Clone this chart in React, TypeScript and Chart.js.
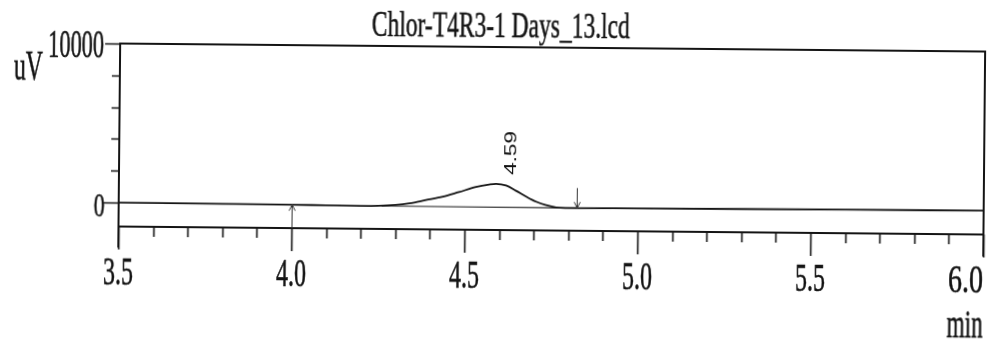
import React, { useEffect, useRef } from "react";
import { Chart, registerables } from "chart.js";

Chart.register(...registerables);

// Chromatogram trace: retention time (min) and detector response (uV)
const chartTitle = "Chlor-T4R3-1 Days_13.lcd";
const yUnitLabel = "uV";
const xUnitLabel = "min";

const timeMin = [
  3.5, 3.8, 4.0, 4.1, 4.2, 4.25, 4.3, 4.34, 4.388, 4.437, 4.483, 4.532, 4.57,
  4.59, 4.619, 4.648, 4.677, 4.706, 4.735, 4.764, 4.79, 4.825, 5.0, 5.3, 5.6,
  6.0,
];
const signalUv = [
  0, -15, -30, -45, -58, -45, 20, 130, 340, 560, 860, 1190, 1350, 1400, 1300,
  975, 620, 305, 95, -40, -72, -75, -60, -40, -20, 0,
];

// Integration baseline drawn under the peak
const integrationTime = [4.26, 4.825];
const integrationUv = [-55, -75];

// Peak annotation
const peakTime = 4.59;
const peakUv = 1400;
const peakLabel = "4.59";

// Integration event markers (up = start arrow, down = end arrow)
const markerTime = [4.0, 4.825];
const markerUv = [-30, -75];
const markerDirection = ["up", "down"];

// Axes
const xMin = 3.5;
const xMax = 6.0;
const yMin = -1500;
const yMax = 10000;
const xMajorValues = [3.5, 4.0, 4.5, 5.0, 5.5, 6.0];
const xTickLabels = ["3.5", "4.0", "4.5", "5.0", "5.5", "6.0"];
const xMinorValues = [
  3.6, 3.7, 3.8, 3.9, 4.1, 4.2, 4.3, 4.4, 4.6, 4.7, 4.8, 4.9, 5.1, 5.2, 5.3,
  5.4, 5.6, 5.7, 5.8, 5.9,
];
const yTickValues = [0, 2000, 4000, 6000, 8000, 10000];
const yLabelValues = [10000, 0];
const yTickLabels = ["10000", "0"];

const INK = "#141414";
const SERIF = "'Liberation Serif', 'Times New Roman', serif";
const SANS = "'Liberation Sans', Arial, sans-serif";

// Draws text squeezed horizontally to a given width (narrow print face)
function fitText(
  ctx: CanvasRenderingContext2D,
  text: string,
  x: number,
  y: number,
  font: string,
  width: number,
  align: CanvasTextAlign
) {
  ctx.save();
  ctx.font = font;
  const natural = ctx.measureText(text).width;
  ctx.translate(x, y);
  ctx.scale(width / natural, 1);
  ctx.textAlign = align;
  ctx.textBaseline = "alphabetic";
  ctx.fillStyle = INK;
  ctx.strokeStyle = INK;
  ctx.lineWidth = 0.6;
  ctx.fillText(text, 0, 0);
  ctx.strokeText(text, 0, 0);
  ctx.restore();
}

const frameAndLabels = {
  id: "chromFrame",
  afterDraw(chart: any) {
    const ctx: CanvasRenderingContext2D = chart.ctx;
    const { left, right, top, bottom } = chart.chartArea;
    const xs = chart.scales.x;
    const ys = chart.scales.y;

    ctx.save();
    ctx.strokeStyle = INK;
    ctx.lineCap = "butt";

    // Frame: top, right, bottom axis, left axis
    ctx.lineWidth = 2;
    ctx.beginPath();
    ctx.moveTo(left - 1, top);
    ctx.lineTo(right + 1, top);
    ctx.moveTo(right, top);
    ctx.lineTo(right, bottom + 22);
    ctx.moveTo(left, bottom);
    ctx.lineTo(right, bottom);
    ctx.moveTo(left, top);
    ctx.lineTo(left, bottom + 21);
    ctx.stroke();

    // X ticks
    ctx.lineWidth = 1.6;
    ctx.beginPath();
    xMinorValues.forEach((v) => {
      const px = Math.round(xs.getPixelForValue(v)) + 0.5;
      ctx.moveTo(px, bottom);
      ctx.lineTo(px, bottom + 10);
    });
    xMajorValues.forEach((v) => {
      const px = Math.round(xs.getPixelForValue(v)) + 0.5;
      ctx.moveTo(px, bottom);
      ctx.lineTo(px, bottom + 23);
    });
    ctx.stroke();

    // Y ticks
    ctx.beginPath();
    yTickValues.forEach((v) => {
      const py = Math.round(ys.getPixelForValue(v)) + 0.5;
      const labelled = yLabelValues.indexOf(v) >= 0;
      ctx.moveTo(left - (labelled ? 15 : 8), py);
      ctx.lineTo(left, py);
    });
    ctx.stroke();

    // Integration markers
    ctx.lineWidth = 1;
    ctx.strokeStyle = "#333";
    markerTime.forEach((t, i) => {
      const px = Math.round(xs.getPixelForValue(t)) + 0.5;
      const py = ys.getPixelForValue(markerUv[i]);
      ctx.beginPath();
      if (markerDirection[i] === "up") {
        ctx.moveTo(px, bottom);
        ctx.lineTo(px, py);
        ctx.moveTo(px - 3, py + 6);
        ctx.lineTo(px, py);
        ctx.lineTo(px + 3, py + 6);
      } else {
        ctx.moveTo(px, py - 20);
        ctx.lineTo(px, py);
        ctx.moveTo(px - 3, py - 6);
        ctx.lineTo(px, py);
        ctx.lineTo(px + 3, py - 6);
      }
      ctx.stroke();
    });
    ctx.restore();

    // Peak retention-time label, vertical
    {
      const px = xs.getPixelForValue(peakTime) + 20;
      const py = ys.getPixelForValue(peakUv) - 9;
      ctx.save();
      ctx.translate(px, py);
      ctx.rotate(-Math.PI / 2);
      ctx.font = `17px ${SANS}`;
      const natural = ctx.measureText(peakLabel).width;
      ctx.scale(44 / natural, 1);
      ctx.textAlign = "left";
      ctx.textBaseline = "alphabetic";
      ctx.fillStyle = INK;
      ctx.fillText(peakLabel, 0, 0);
      ctx.restore();
    }

    // Tick labels (last one sits flush with the axis end)
    xMajorValues.forEach((v, i) => {
      const px = xs.getPixelForValue(v);
      const last = i === xMajorValues.length - 1;
      fitText(
        ctx,
        xTickLabels[i],
        last ? right : px,
        bottom + 58,
        `40px ${SERIF}`,
        last ? 35 : 30,
        last ? "right" : "center"
      );
    });
    yLabelValues.forEach((v, i) => {
      const py = ys.getPixelForValue(v);
      const big = yTickLabels[i].length > 1;
      fitText(
        ctx,
        yTickLabels[i],
        left - (big ? 16 : 14),
        py + 14,
        `${big ? 40 : 34}px ${SERIF}`,
        big ? 56 : 11,
        "right"
      );
    });

    // Title and unit labels
    fitText(ctx, chartTitle, (left + right) / 2 - 52, 37, `36px ${SERIF}`, 258, "center");
    fitText(ctx, yUnitLabel, 13, 84, `42px ${SERIF}`, 29, "left");
    fitText(ctx, xUnitLabel, right, bottom + 103, `40px ${SERIF}`, 36, "right");
  },
};

export default function App() {
  const canvasRef = useRef<HTMLCanvasElement | null>(null);

  useEffect(() => {
    const canvas = canvasRef.current;
    if (!canvas) return;
    const chart = new Chart(canvas, {
      type: "line",
      data: {
        datasets: [
          {
            label: "Signal",
            data: timeMin.map((t, i) => ({ x: t, y: signalUv[i] })),
            borderColor: INK,
            borderWidth: 1.8,
            pointRadius: 0,
            cubicInterpolationMode: "monotone",
            fill: false,
          },
          {
            label: "Baseline",
            data: integrationTime.map((t, i) => ({ x: t, y: integrationUv[i] })),
            borderColor: "#2a2a2a",
            borderWidth: 1.2,
            pointRadius: 0,
            fill: false,
          },
        ],
      },
      options: {
        responsive: false,
        maintainAspectRatio: false,
        animation: false,
        devicePixelRatio: 1,
        events: [],
        layout: { padding: { left: 119, right: 6, top: 47, bottom: 114 } },
        plugins: {
          legend: { display: false },
          tooltip: { enabled: false },
          title: { display: false },
        },
        scales: {
          x: { type: "linear", min: xMin, max: xMax, display: false },
          y: { type: "linear", min: yMin, max: yMax, display: false },
        },
      },
      plugins: [frameAndLabels],
    });
    return () => chart.destroy();
  }, []);

  return (
    <div
      style={{
        position: "absolute",
        left: 0,
        top: 0,
        width: 990,
        height: 344,
        background: "#fff",
        transform: "rotate(0.53deg)",
        transformOrigin: "495px 172px",
      }}
    >
      <canvas ref={canvasRef} width={990} height={344} style={{ display: "block" }} />
    </div>
  );
}
